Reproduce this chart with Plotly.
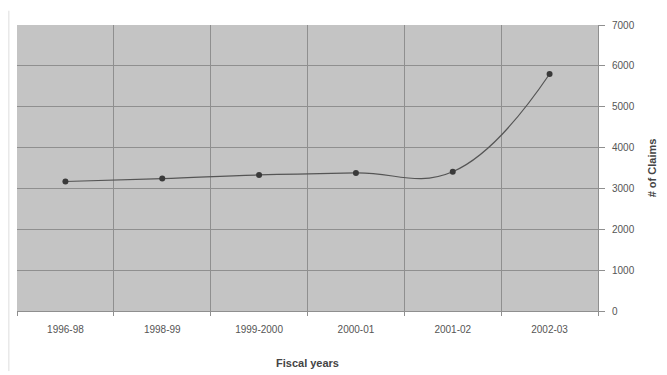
import plotly.graph_objects as go

years = ["1996-98", "1998-99", "1999-2000", "2000-01", "2001-02", "2002-03"]
claims = [3170, 3240, 3330, 3380, 3410, 5800]
y_ticks = [0, 1000, 2000, 3000, 4000, 5000, 6000, 7000]

fig = go.Figure()
fig.add_trace(go.Scatter(
    x=years, y=claims, mode="lines+markers",
    line=dict(color="#555555", width=1.2, shape="spline", smoothing=1.2),
    marker=dict(symbol="circle", size=6, color="#3a3a3a"),
    showlegend=False, hoverinfo="skip",
))

fig.update_layout(
    width=659, height=367,
    margin=dict(l=9, r=69, t=17, b=64, autoexpand=False),
    paper_bgcolor="white",
    plot_bgcolor="#c4c4c4",
    font=dict(family="Liberation Sans, Arial, sans-serif", size=10, color="#555555"),
    xaxis=dict(
        type="category", tickson="boundaries", showgrid=True,
        gridcolor="#8f8f8f", gridwidth=1,
        ticks="outside", ticklen=4, tickcolor="#8f8f8f",
        ticklabelstandoff=9,
        showline=True, linecolor="#8f8f8f",
        title=dict(text="<b>Fiscal years</b>", font=dict(size=11, color="#444444"), standoff=25),
        tickfont=dict(size=10, color="#555555"),
        range=[-0.5, 5.5],
    ),
    yaxis=dict(
        side="right", range=[0, 7000], tickvals=y_ticks,
        showgrid=True, gridcolor="#8f8f8f", gridwidth=1,
        ticks="outside", ticklen=6, tickcolor="#8f8f8f",
        ticklabelstandoff=5,
        showline=True, linecolor="#8f8f8f", zeroline=False,
        title=dict(text="<b># of Claims</b>", font=dict(size=11, color="#444444"), standoff=14),
        tickfont=dict(size=10, color="#555555"),
    ),
    shapes=[dict(type="line", xref="paper", yref="paper", x0=-0.014, x1=-0.014,
                 y0=-0.21, y1=1.05, line=dict(color="#dddddd", width=1))],
)

fig.write_html("out.html")
